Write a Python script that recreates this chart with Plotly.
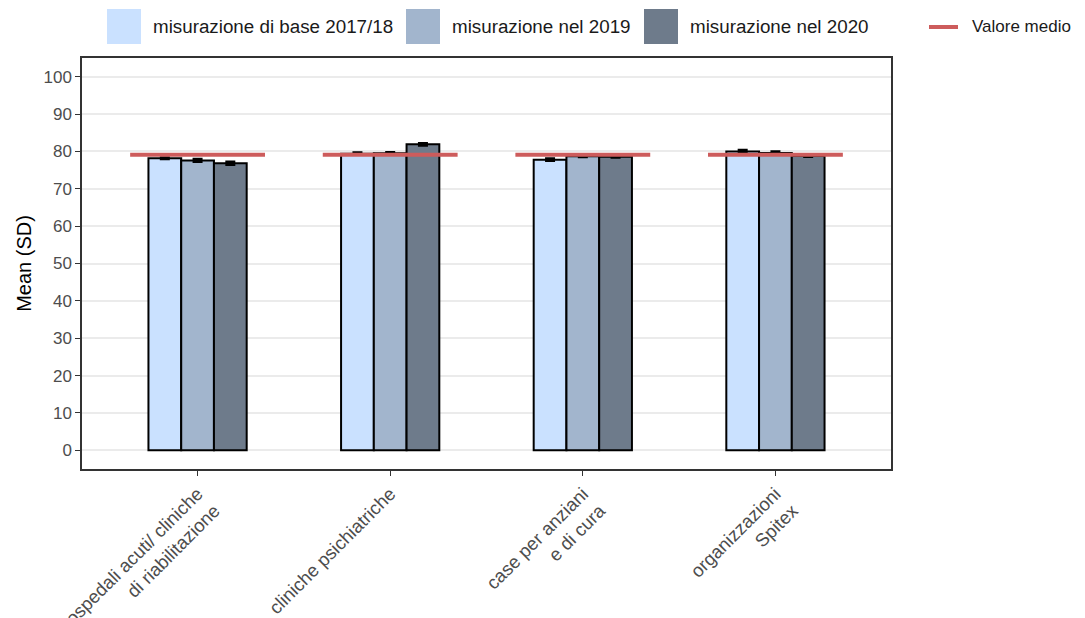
import plotly.graph_objects as go

categories = ["ospedali acuti/ cliniche<br>di riabilitazione", "cliniche psichiatriche",
              "case per anziani<br>e di cura", "organizzazioni<br>Spitex"]
series_names = ["misurazione di base 2017/18", "misurazione nel 2019", "misurazione nel 2020"]
base_2017 = [78.2, 79.4, 77.8, 80.0]
nel_2019 = [77.6, 79.5, 78.7, 79.6]
nel_2020 = [76.8, 81.9, 78.6, 78.8]
sd_2017 = [0.2, 0.3, 0.3, 0.4]
sd_2019 = [0.4, 0.3, 0.2, 0.4]
sd_2020 = [0.4, 0.3, 0.2, 0.2]
mean_value = 79.1

colors = ["#CAE1FF", "#A2B5CD", "#6E7B8B"]
mean_color = "#CD5C5C"
xpos = [1, 2, 3, 4]

# page body adds an 8px margin, so the figure is drawn 8px smaller/shifted
OFF = 8
W, H = 1085 - OFF, 618 - OFF
L, R, T, B = 82 - OFF, 194, 58 - OFF, 149

fig = go.Figure()
for name, vals, sd, col in zip(series_names, [base_2017, nel_2019, nel_2020],
                               [sd_2017, sd_2019, sd_2020], colors):
    fig.add_trace(go.Bar(
        x=xpos, y=vals, name=name,
        marker=dict(color=col, line=dict(color="black", width=2)),
        error_y=dict(type="data", array=sd, color="black", thickness=2.5, width=5),
    ))

# mean line per category
lx, ly = [], []
for c in xpos:
    lx += [c - 0.35, c + 0.35, None]
    ly += [mean_value, mean_value, None]
fig.add_trace(go.Scatter(x=lx, y=ly, mode="lines", name="Valore medio",
                         line=dict(color=mean_color, width=4)))


# legend drawn by hand (big ggplot-style keys), positions in screen pixels
def px(x):
    return (x - OFF - L) / (W - L - R)


def py(y):
    return (H - B - (y - OFF)) / (H - T - B)


legend_keys = [(107, colors[0], series_names[0]),
               (406, colors[1], series_names[1]),
               (644, colors[2], series_names[2])]
for x0, col, label in legend_keys:
    fig.add_shape(type="rect", xref="paper", yref="paper",
                  x0=px(x0), x1=px(x0 + 34), y0=py(44), y1=py(9),
                  fillcolor=col, line=dict(width=0))
    fig.add_annotation(xref="paper", yref="paper", x=px(x0 + 44), y=py(27),
                       text=label, showarrow=False, xanchor="left", yanchor="middle",
                       font=dict(size=18.8, color="#1a1a1a"))
fig.add_shape(type="line", xref="paper", yref="paper",
              x0=px(929), x1=px(958), y0=py(27), y1=py(27),
              line=dict(color=mean_color, width=4))
fig.add_annotation(xref="paper", yref="paper", x=px(970), y=py(27),
                   text="Valore medio", showarrow=False, xanchor="left", yanchor="middle",
                   font=dict(size=17, color="#1a1a1a"))

fig.update_layout(
    width=W, height=H,
    margin=dict(l=L, r=R, t=T, b=B, autoexpand=False),
    paper_bgcolor="white", plot_bgcolor="white",
    barmode="group", bargap=0.49, bargroupgap=0,
    font=dict(family="Liberation Sans, Arial", size=17, color="black"),
    showlegend=False,
)
fig.update_xaxes(
    range=[0.4, 4.6], tickvals=xpos, ticktext=categories, tickangle=-45,
    showgrid=False, zeroline=False, ticks="outside", ticklen=5, tickcolor="#333333",
    tickfont=dict(size=18.5, color="#4d4d4d"),
    showline=True, linecolor="#333333", linewidth=1.5, mirror=True,
)
fig.update_yaxes(
    range=[-5, 105], tickvals=list(range(0, 101, 10)),
    title=dict(text="Mean (SD)", font=dict(size=20, color="black"), standoff=6),
    showgrid=True, gridcolor="#ebebeb", gridwidth=1.5, zeroline=False,
    ticks="outside", ticklen=5, tickcolor="#333333",
    tickfont=dict(size=17, color="#4d4d4d"),
    showline=True, linecolor="#333333", linewidth=1.5, mirror=True,
)

fig.write_html("out.html")
